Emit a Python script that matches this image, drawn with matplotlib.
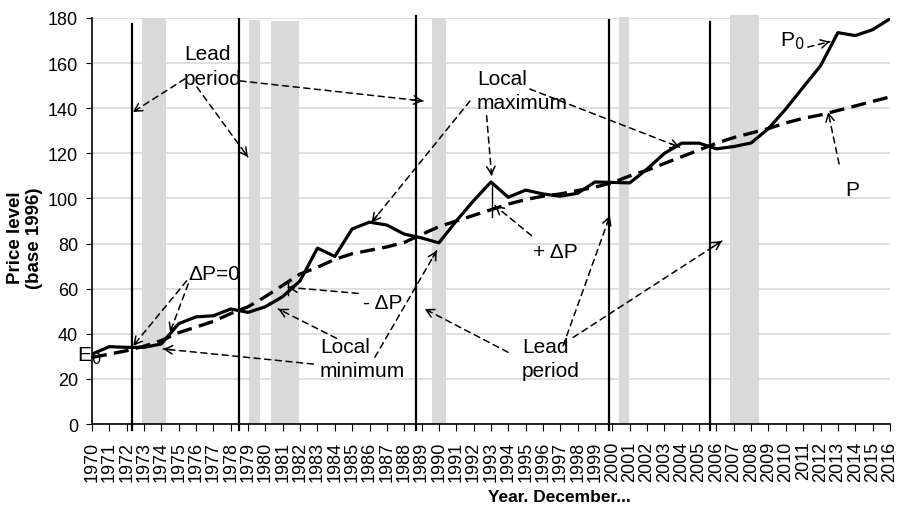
import matplotlib
matplotlib.use('Agg')
import matplotlib.pyplot as plt

plt.rcParams['font.family'] = ['Liberation Sans', 'DejaVu Sans']

years = list(range(1970, 2017))
p0 = [31, 34.3, 34, 34, 35.5, 44.5, 47.5, 48, 51, 49.5,
      52, 56.5, 63.5, 78, 74.3, 86.5, 89.5, 88.2, 84.2, 82.5,
      80.3, 90, 99, 107.3, 100.5, 103.7, 102, 101, 102.3, 107.3,
      107.1, 106.9, 113, 120, 124.5, 124.5, 122, 123, 124.6, 131,
      139.7, 149.3, 158.8, 173.5, 172.2, 174.8, 179.6]
p_trend = [29.5, 31, 32.5, 34.5, 37, 40.5, 43, 45.5, 49, 52,
           56.5, 61.5, 66.5, 69.5, 73, 75.5, 77, 78.5, 80.5, 84,
           87.5, 90, 92.5, 95, 97.5, 99.5, 101, 102, 103.5, 105,
           107, 110, 112.5, 115.5, 118.5, 121.5, 124.5, 127, 129, 131,
           133.5, 135.5, 137, 139, 141, 143, 145]

# shaded periods
band_start = [1972.9, 1979.05, 1980.3, 1989.6, 2000.4, 2006.8]
band_end = [1974.25, 1979.68, 1981.93, 1990.4, 2000.97, 2008.45]
band_top = [180, 179.3, 178.6, 180, 180.3, 181.3]

# vertical marker lines
vline_x = [1972.29, 1978.47, 1988.7, 1999.8, 2005.65]
vline_top = [177.3, 179.6, 180.7, 179.3, 178.1]

fig = plt.figure(figsize=(8.98, 5.06), dpi=100)
ax = fig.add_axes([0.1024, 0.160, 0.8886, 0.8025])

for s, e, t in zip(band_start, band_end, band_top):
    ax.fill_between([s, e], [0, 0], [t, t], color='#d9d9d9', lw=0,
                    zorder=1, clip_on=False)

ax.plot(years, p_trend, color='black', lw=2.4, dashes=(4.5, 2.2), zorder=3)
ax.plot(years, p0, color='black', lw=2.3, zorder=4)

for x, t in zip(vline_x, vline_top):
    ax.plot([x, x], [-2.5, t], color='black', lw=1.6, zorder=5, clip_on=False)

# delta P segments
ax.plot([1981.3, 1981.3], [57, 63.5], color='black', lw=1, zorder=5)
ax.plot([1993.05, 1993.05], [91.6, 107.2], color='black', lw=1, zorder=5)

ax.set_xlim(1970, 2016)
ax.set_ylim(0, 180)
ax.set_yticks(range(0, 181, 20))
ax.set_xticks(years)
ax.set_xticklabels([str(y) for y in years], rotation=90, fontsize=13)
ax.tick_params(axis='y', labelsize=13, length=4, pad=6)
ax.tick_params(axis='x', length=5, pad=7)
ax.grid(axis='y', color='#d9d9d9', lw=1.2, zorder=0)
ax.set_axisbelow(True)
for side in ['top', 'right']:
    ax.spines[side].set_visible(False)
ax.spines['left'].set_linewidth(1.2)
ax.spines['bottom'].set_linewidth(1.2)

fig.text(25 / 898, 1 - 238 / 506, 'Price level\n(base 1996)', fontsize=13.5,
         fontweight='bold', rotation=90, ha='center', va='center',
         linespacing=1.15)
fig.text(559 / 898, 1 - 498 / 506, 'Year. December...', fontsize=12.5,
         fontweight='bold', ha='center', va='center')

fs = 15
texts = [
    (1975.30, 168.5, 'Lead\nperiod'),
    (1992.19, 157.5, 'Local\nmaximum'),
    (1983.14, 38.7, 'Local\nminimum'),
    (1994.78, 38.7, 'Lead\nperiod'),
    (1975.53, 71.0, '\u0394P=0'),
    (1985.62, 58.0, '- \u0394P'),
    (1995.42, 80.8, '+ \u0394P'),
    (2009.65, 174.8, 'P$_{0}$'),
    (2013.40, 108.2, 'P'),
    (1969.14, 35.1, 'E$_{0}$'),
]
for x, y, s in texts:
    ax.text(x, y, s, fontsize=fs, ha='left', va='top', linespacing=1.38,
            zorder=6, clip_on=False)

arrows = [
    ((1975.36, 153.0), (1972.36, 138.3)),
    ((1976.05, 149.4), (1978.99, 118.4)),
    ((1978.53, 152.1), (1989.08, 143.2)),
    ((1991.79, 143.2), (1986.12, 89.4)),
    ((1992.75, 136.7), (1993.04, 110.1)),
    ((1995.24, 148.5), (2003.88, 122.7)),
    ((2011.27, 167.1), (2012.54, 169.5)),
    ((2013.07, 115.3), (2012.44, 138.2)),
    ((1975.46, 63.5), (1972.38, 34.7)),
    ((1975.55, 62.1), (1974.50, 40.7)),
    ((1985.35, 57.9), (1981.31, 60.6)),
    ((1995.34, 83.5), (1993.23, 96.8)),
    ((1984.10, 38.0), (1980.74, 51.0)),
    ((1982.76, 26.6), (1974.11, 33.3)),
    ((1986.31, 29.6), (1989.87, 76.8)),
    ((1993.99, 31.8), (1989.19, 51.0)),
    ((1997.16, 34.7), (1999.86, 92.3)),
    ((1997.74, 38.4), (2006.31, 81.1)),
]
for start, tip in arrows:
    ax.annotate('', xy=tip, xytext=start, annotation_clip=False,
                arrowprops=dict(arrowstyle='-', color='black', lw=1.1,
                                linestyle=(0, (4, 3)), shrinkA=0, shrinkB=0),
                zorder=6)
    near = (tip[0] + 0.06 * (start[0] - tip[0]), tip[1] + 0.06 * (start[1] - tip[1]))
    ax.annotate('', xy=tip, xytext=near, annotation_clip=False,
                arrowprops=dict(arrowstyle='->,head_length=0.55,head_width=0.3',
                                color='black', lw=1.1, shrinkA=0, shrinkB=0),
                zorder=6)

fig.savefig('out.png', dpi=100)
